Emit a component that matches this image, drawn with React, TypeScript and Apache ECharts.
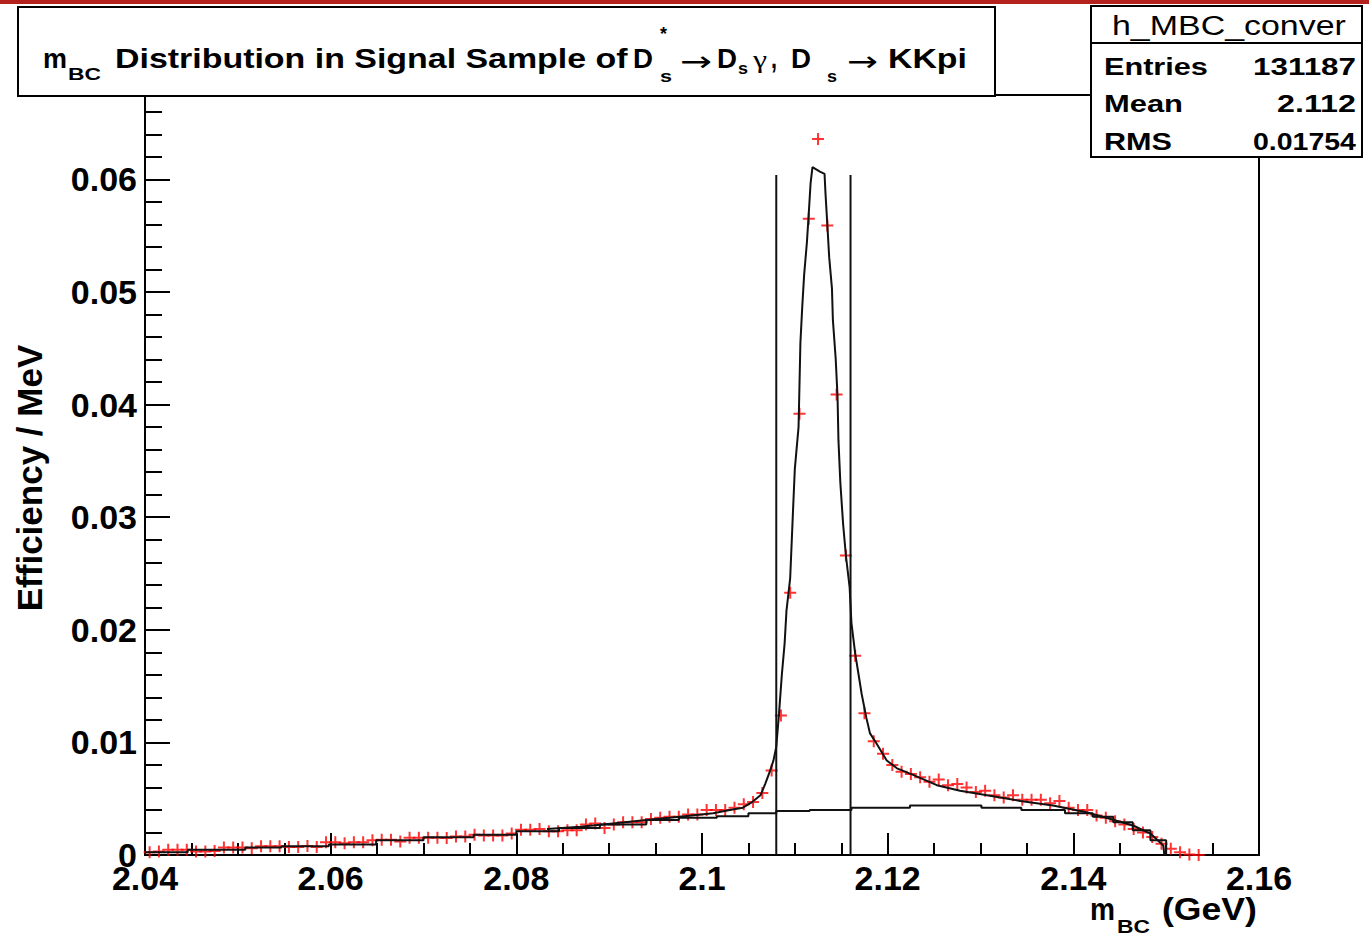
import React, { useEffect, useRef } from "react";
import * as echarts from "echarts";

// ---- data ----
const HIST_MIN = 2.04;
const BIN_WIDTH = 0.001;
// efficiency per MeV, one value per 1 MeV bin starting at 2.040 GeV
const effValues = [
  0.00025, 0.0003, 0.00046, 0.00046, 0.00046, 0.0003, 0.0003, 0.00035, 0.00067, 0.00067,
  0.00067, 0.0006, 0.00078, 0.00078, 0.00078, 0.0007, 0.0007, 0.0008, 0.0007, 0.00114,
  0.00114, 0.00105, 0.00114, 0.00114, 0.0013, 0.00135, 0.00135, 0.0012, 0.00153, 0.00153,
  0.00153, 0.00153, 0.0015, 0.00164, 0.00164, 0.0018, 0.00173, 0.00173, 0.00173, 0.0019,
  0.00224, 0.00224, 0.0023, 0.0021, 0.0021, 0.0022, 0.0022, 0.0027, 0.0028, 0.0024,
  0.0027, 0.0029, 0.0029, 0.0029, 0.0032, 0.0033, 0.0034, 0.0034, 0.0036, 0.0036,
  0.004, 0.004, 0.004, 0.0042, 0.0045, 0.0047, 0.0055, 0.0075, 0.0124, 0.0233,
  0.0392, 0.0565, 0.0636, 0.0559, 0.0409, 0.0266, 0.0177, 0.0126, 0.0101, 0.009,
  0.008, 0.0074, 0.0072, 0.0069, 0.0065, 0.0067, 0.0062, 0.0063, 0.006, 0.0056,
  0.0057, 0.0053, 0.0051, 0.0053, 0.0049, 0.0049, 0.0049, 0.0046, 0.0048, 0.0042,
  0.004, 0.004, 0.0035, 0.0033, 0.003, 0.0027, 0.0023, 0.002, 0.0016, 0.001,
  0.00055, 0.00025, 0.00005, 0.00001,
];

// total fit curve
const fitX = [
  2.0833, 2.0869, 2.0904, 2.094, 2.0976, 2.1012, 2.103, 2.1044, 2.1054, 2.1063,
  2.1068, 2.1073, 2.1077, 2.108, 2.1083, 2.1086, 2.1089, 2.1091, 2.1095, 2.1098,
  2.11, 2.1104, 2.1105, 2.1106, 2.1108, 2.111, 2.1113, 2.1115, 2.1117, 2.1119,
  2.1123, 2.1127, 2.1132, 2.1133, 2.1135, 2.1137, 2.114, 2.1141, 2.1144, 2.1146,
  2.1147, 2.1149, 2.1152, 2.1155, 2.1159, 2.1161, 2.1165, 2.1172, 2.1177, 2.1181,
  2.1188, 2.1199, 2.121, 2.1228, 2.1253, 2.1278, 2.1307, 2.1343, 2.1378, 2.1414,
  2.144, 2.1465, 2.1483, 2.1497, 2.1498,
];
const fitY = [
  0.0023, 0.0025, 0.0028, 0.0031, 0.0034, 0.0037, 0.004, 0.0042, 0.0047, 0.0053,
  0.0063, 0.0074, 0.0084, 0.0096, 0.0126, 0.016, 0.0188, 0.0217, 0.0246, 0.0305,
  0.0343, 0.038, 0.0417, 0.0455, 0.0487, 0.0515, 0.0544, 0.057, 0.0597, 0.0611,
  0.0609, 0.0607, 0.0605, 0.0588, 0.056, 0.0531, 0.0503, 0.0475, 0.0441, 0.0407,
  0.0368, 0.0331, 0.0294, 0.0266, 0.0238, 0.0206, 0.0179, 0.0143, 0.0122, 0.0108,
  0.0099, 0.0084, 0.0077, 0.0071, 0.0062, 0.0057, 0.0053, 0.0048, 0.0044, 0.0038,
  0.0032, 0.0026, 0.0019, 0.00084, 0,
];

// background component (stepped)
const bgX = [
  2.04, 2.0446, 2.0508, 2.0547, 2.0598, 2.0649, 2.07, 2.0754, 2.08, 2.0846,
  2.089, 2.094, 2.0975, 2.1016, 2.105, 2.108, 2.1116, 2.1161, 2.1224, 2.1301,
  2.1344, 2.1391, 2.1421, 2.1443, 2.1464, 2.1483, 2.15,
];
const bgY = [
  0.00025, 0.00046, 0.00067, 0.00078, 0.00093, 0.0013, 0.00158, 0.0018, 0.0021, 0.0024,
  0.0027, 0.0031, 0.0033, 0.00345, 0.0037, 0.0039, 0.004, 0.0042, 0.0044, 0.0042,
  0.004, 0.0037, 0.0034, 0.0029, 0.0022, 0.0013, 0,
];

// signal window
const windowEdges = [2.108, 2.116];
const windowTop = 0.0604;

const statsName = "h_MBC_conver";
const statsRows = [
  ["Entries", "131187"],
  ["Mean", "2.112"],
  ["RMS", "0.01754"],
];

const FONT = '"Liberation Sans", Arial, Helvetica, sans-serif';

let measureCtx: CanvasRenderingContext2D | null = null;
function measure(text: string, size: number, weight: string, family: string) {
  if (!measureCtx) measureCtx = document.createElement("canvas").getContext("2d");
  measureCtx!.font = `${weight} ${size}px ${family}`;
  return measureCtx!.measureText(text).width;
}

// text fitted horizontally between x0 and x1, with baseline at `base`
function fitText(
  text: string,
  x0: number,
  x1: number,
  base: number,
  size: number,
  weight = "bold",
  family = FONT
) {
  const w = measure(text, size, weight, family);
  const sx = w > 0 ? (x1 - x0) / w : 1;
  return {
    type: "text",
    x: x0,
    y: base - 0.35 * size,
    scaleX: sx,
    z: 30,
    silent: true,
    style: {
      text,
      fontSize: size,
      fontWeight: weight,
      fontFamily: family,
      fill: "#000",
      align: "left",
      verticalAlign: "middle",
    },
  };
}

const plusPath = "path://M0,5H12V7H0Z M5,0H7V12H5Z";

export default function App() {
  const ref = useRef<HTMLDivElement>(null);

  useEffect(() => {
    if (!ref.current) return;
    const chart = echarts.init(ref.current, undefined, { renderer: "svg" });

    const points = effValues.map((v, i) => [HIST_MIN + (i + 0.5) * BIN_WIDTH, v]);
    const fit = fitX.map((x, i) => [x, fitY[i]]);
    const bg = bgX.map((x, i) => [x, bgY[i]]);

    const axisBlack = { color: "#000", width: 2 };

    const graphics: any[] = [
      { type: "rect", shape: { x: 0, y: 0, width: 1369, height: 4 }, style: { fill: "#b3221d" }, z: 40, silent: true },
      // title box
      { type: "rect", shape: { x: 18, y: 7, width: 977, height: 89 }, style: { fill: "#fff", stroke: "#000", lineWidth: 2 }, z: 20, silent: true },
      fitText("m", 43, 67, 68, 28),
      fitText("BC", 68, 101, 80, 17),
      fitText("Distribution in Signal Sample of", 115, 628, 68, 28),
      fitText("D", 633, 653, 68, 28),
      fitText("*", 660, 667, 40, 18),
      fitText("s", 660, 672, 82, 17),
      fitText("\u2192", 680, 712, 71, 28, "normal", '"DejaVu Sans", sans-serif'),
      fitText("D", 717, 737, 68, 28),
      fitText("s", 738, 748, 74, 17),
      fitText("\u03b3", 753, 767, 68, 26, "normal", '"Liberation Serif", serif'),
      fitText(",", 771, 777, 68, 28),
      fitText("D", 791, 811, 68, 28),
      fitText("s", 827, 837, 82, 17),
      fitText("\u2192", 847, 878, 71, 28, "normal", '"DejaVu Sans", sans-serif'),
      fitText("KKpi", 888, 967, 68, 28),
      // stats box
      { type: "rect", shape: { x: 1091, y: 6, width: 271, height: 151 }, style: { fill: "#fff", stroke: "#000", lineWidth: 2 }, z: 20, silent: true },
      { type: "line", shape: { x1: 1091, y1: 43, x2: 1362, y2: 43 }, style: { stroke: "#000", lineWidth: 2 }, z: 21, silent: true },
      fitText(statsName, 1112, 1346, 35, 27, "normal"),
      fitText(statsRows[0][0], 1104, 1208, 75, 24),
      fitText(statsRows[0][1], 1253, 1356, 75, 24),
      fitText(statsRows[1][0], 1104, 1183, 112, 24),
      fitText(statsRows[1][1], 1277, 1356, 112, 24),
      fitText(statsRows[2][0], 1104, 1172, 150, 24),
      fitText(statsRows[2][1], 1253, 1356, 150, 24),
      // y axis title
      {
        type: "text",
        x: 29,
        y: 478,
        rotation: Math.PI / 2,
        z: 30,
        silent: true,
        style: { text: "Efficiency / MeV", fontSize: 35, fontWeight: "bold", fontFamily: FONT, fill: "#000", align: "center", verticalAlign: "middle" },
      },
      // x axis title
      fitText("m", 1090, 1115, 920, 32),
      fitText("BC", 1117, 1150, 933, 19),
      fitText("(GeV)", 1162, 1257, 920, 32),
    ];

    const fmt = (v: number) => String(parseFloat(v.toFixed(4)));

    chart.setOption({
      animation: false,
      backgroundColor: "#fff",
      grid: { left: 145, right: 110, top: 95, bottom: 82, show: true, borderColor: "#000", borderWidth: 2, backgroundColor: "transparent" },
      xAxis: [
        {
          type: "value", min: 2.04, max: 2.16, interval: 0.02, position: "bottom",
          axisLine: { show: true, onZero: false, lineStyle: axisBlack },
          axisTick: { show: true, inside: true, length: 22, lineStyle: axisBlack },
          axisLabel: { fontSize: 34, fontWeight: "bold", fontFamily: FONT, color: "#000", margin: 6, formatter: fmt },
          splitLine: { show: false },
        },
        {
          type: "value", min: 2.04, max: 2.16, interval: 0.005, position: "bottom",
          axisLine: { show: false, onZero: false },
          axisTick: { show: true, inside: true, length: 12, lineStyle: axisBlack },
          axisLabel: { show: false },
          splitLine: { show: false },
        },
      ],
      yAxis: [
        {
          type: "value", min: 0, max: 0.0675, interval: 0.01, position: "left",
          axisLine: { show: true, onZero: false, lineStyle: axisBlack },
          axisTick: { show: true, inside: true, length: 25, lineStyle: axisBlack },
          axisLabel: { fontSize: 34, fontWeight: "bold", fontFamily: FONT, color: "#000", margin: 8, showMaxLabel: false, formatter: fmt },
          splitLine: { show: false },
        },
        {
          type: "value", min: 0, max: 0.0675, interval: 0.002, position: "left",
          axisLine: { show: false, onZero: false },
          axisTick: { show: true, inside: true, length: 17, lineStyle: axisBlack },
          axisLabel: { show: false },
          splitLine: { show: false },
        },
      ],
      series: [
        {
          name: "data", type: "scatter", data: points, symbol: plusPath, symbolSize: 12,
          itemStyle: { color: "#ff0000" }, z: 2, silent: true,
        },
        {
          name: "background", type: "line", step: "end", data: bg, showSymbol: false, symbol: "none",
          lineStyle: { color: "#111", width: 2 }, z: 3, silent: true,
        },
        {
          name: "fit", type: "line", data: fit, showSymbol: false, symbol: "none",
          lineStyle: { color: "#111", width: 2 }, z: 4, silent: true,
        },
        ...windowEdges.map((x, k) => ({
          name: "window" + k, type: "line", data: [[x, 0], [x, windowTop]], showSymbol: false, symbol: "none",
          lineStyle: { color: "#111", width: 2 }, z: 4, silent: true,
        })),
      ],
      graphic: graphics,
    });

    return () => chart.dispose();
  }, []);

  return (
    <div
      ref={ref}
      style={{ position: "absolute", left: 0, top: 0, width: 1369, height: 937, background: "#fff" }}
    />
  );
}
